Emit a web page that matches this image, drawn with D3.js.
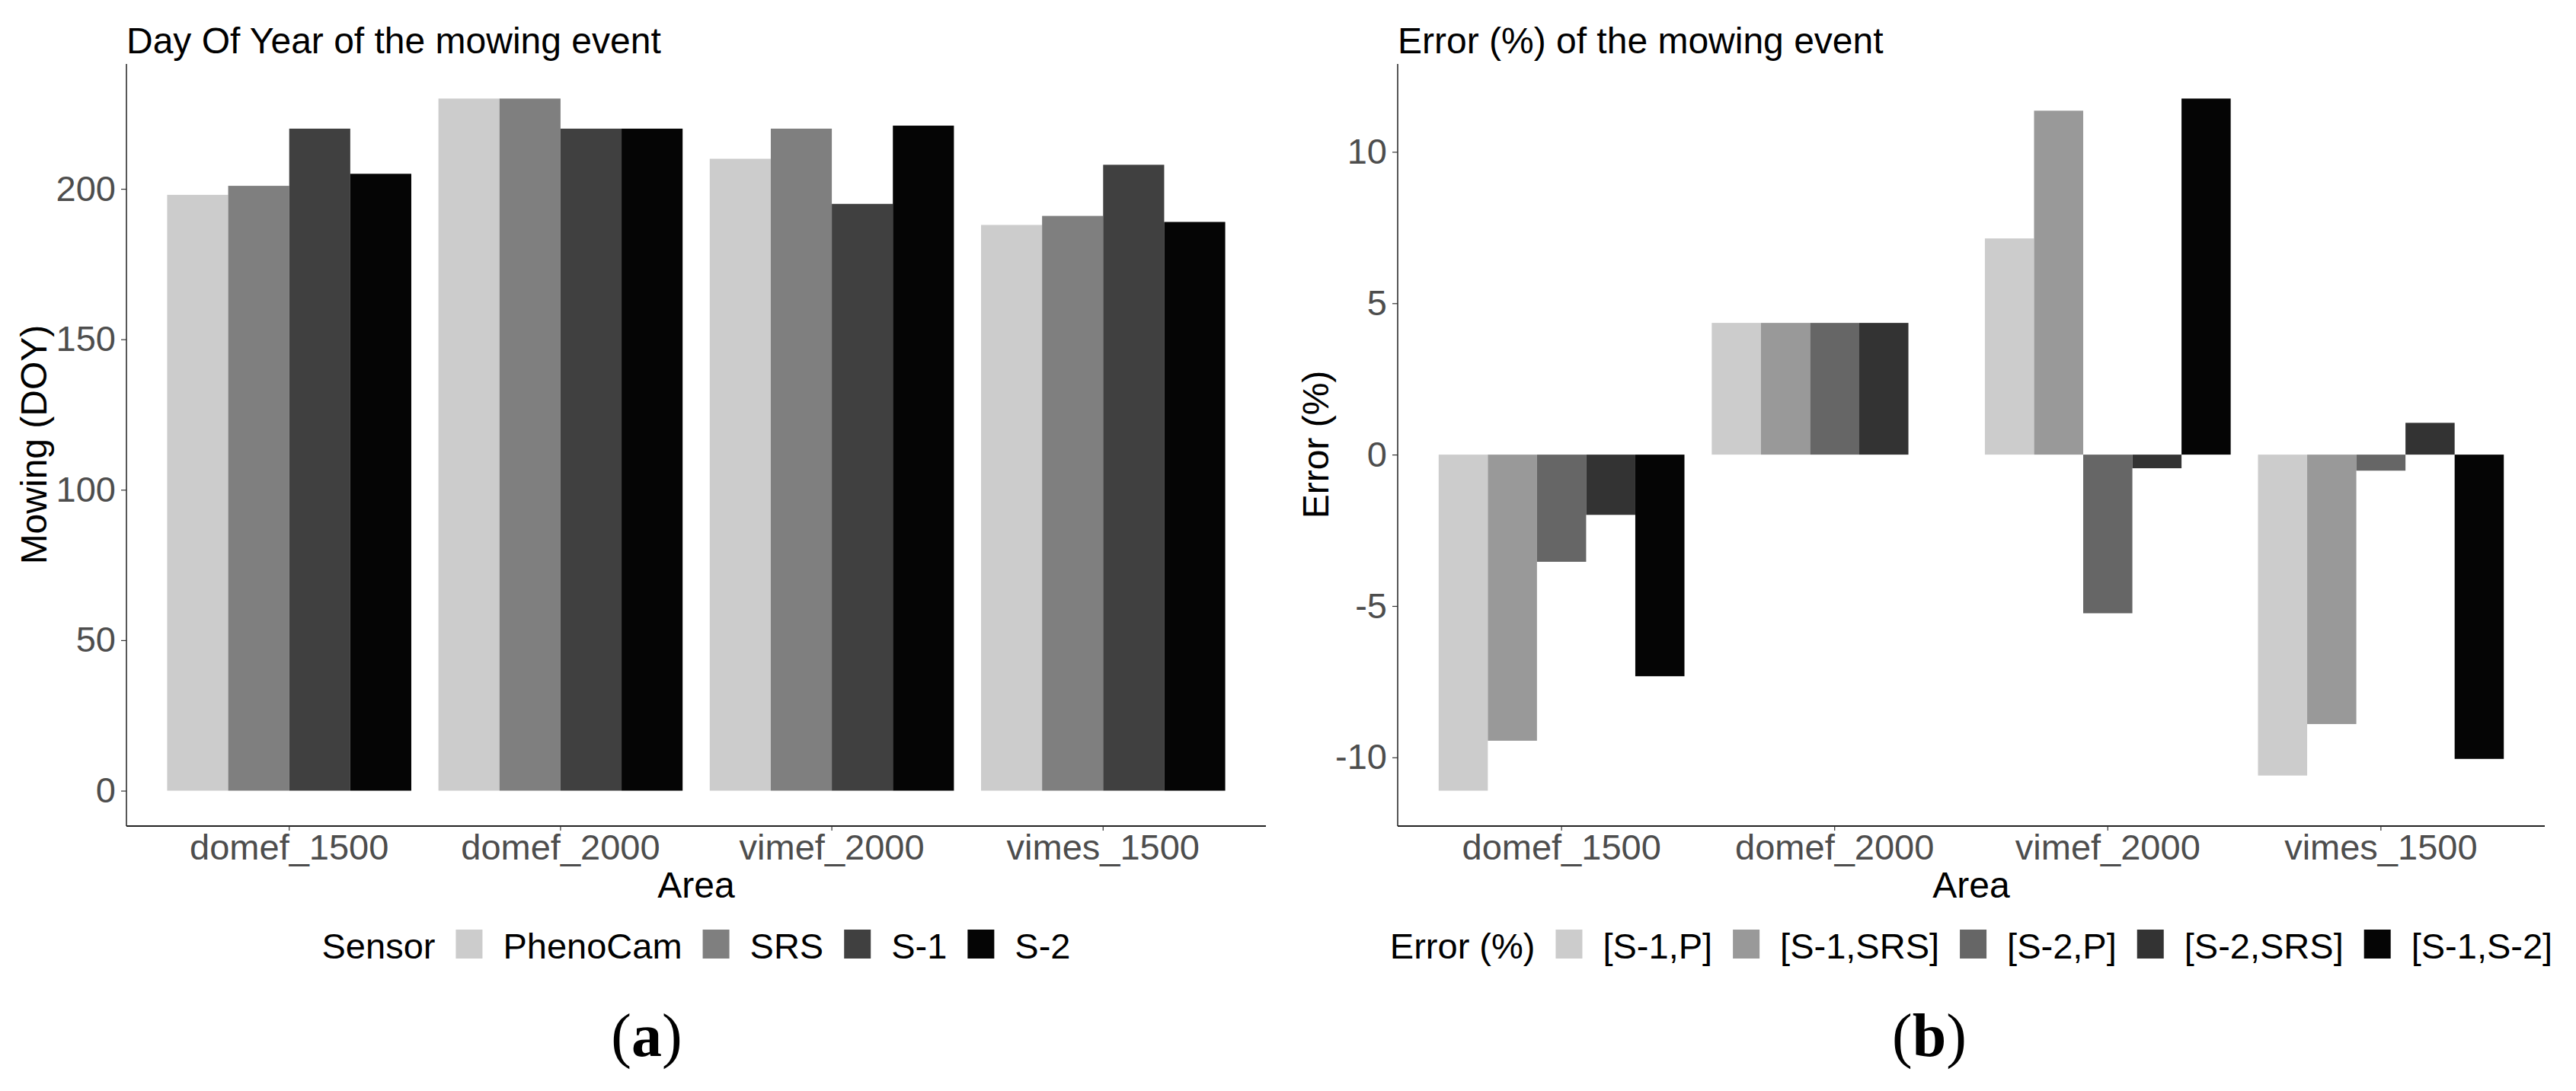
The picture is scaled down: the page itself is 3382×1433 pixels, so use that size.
<!DOCTYPE html>
<meta charset="utf-8">
<head>
  <title>Mowing event</title>
</head>
<style>
body { margin: 0; background: #fff; }
svg text { font-family: "Liberation Sans", Arial, sans-serif; }
</style>
<body>
<svg id="chart" width="3382" height="1433"></svg>
<script src="https://cdnjs.cloudflare.com/ajax/libs/d3/7.8.5/d3.min.js"></script>
<script>
// categories
var areas = ['domef_1500', 'domef_2000', 'vimef_2000', 'vimes_1500'];

// panel (a): DOY per sensor
var sensors = ['PhenoCam', 'SRS', 'S-1', 'S-2'];
var phenoCam = [198, 230, 210, 188];
var srs      = [201, 230, 220, 191];
var s1       = [220, 220, 195, 208];
var s2       = [205, 220, 221, 189];
var doyTicks = [0, 50, 100, 150, 200];

// panel (b): error (%) per pair
var pairs = ['[S-1,P]', '[S-1,SRS]', '[S-2,P]', '[S-2,SRS]', '[S-1,S-2]'];
var errS1P    = [-11.1, 4.35, 7.14, -10.6];
var errS1SRS  = [-9.45, 4.35, 11.36, -8.9];
var errS2P    = [-3.54, 4.35, -5.24, -0.53];
var errS2SRS  = [-1.99, 4.35, -0.45, 1.05];
var errS1S2   = [-7.32, 0, 11.76, -10.05];
var errTicks = [-10, -5, 0, 5, 10];

var svg = d3.select('#chart');
var FS = 48, TS = 47;
var sans = '"Liberation Sans", Arial, sans-serif';

function drawPanel(o) {
  var g = svg.append('g');
  var top = 84, bottom = 1084;

  // ggplot style 5% expansion
  var all = d3.merge(o.series);
  var lo = Math.min(0, d3.min(all)), hi = Math.max(0, d3.max(all));
  var pad = (hi - lo) * 0.05;
  var y = d3.scaleLinear().domain([lo - pad, hi + pad]).range([bottom, top]);

  var x = d3.scaleBand().domain(areas).range([o.left, o.right])
    .paddingInner(0.1).paddingOuter(0.15);
  var xs = d3.scaleBand().domain(o.keys).range([0, x.bandwidth()]);

  // bars
  o.series.forEach(function(vals, i) {
    g.append('g').selectAll('rect').data(vals).enter().append('rect')
      .attr('x', function(d, j) { return x(areas[j]) + xs(o.keys[i]); })
      .attr('width', xs.bandwidth())
      .attr('y', function(d) { return y(Math.max(0, d)); })
      .attr('height', function(d) { return Math.abs(y(d) - y(0)); })
      .attr('fill', o.colors[i]);
  });

  // y axis
  var ya = g.append('g').attr('transform', 'translate(' + o.left + ',0)')
    .call(d3.axisLeft(y).tickValues(o.ticks).tickSizeInner(7).tickSizeOuter(0)
      .tickPadding(7).tickFormat(function(d) { return String(d); }));
  ya.select('.domain').attr('stroke', '#111').attr('stroke-width', 1.4)
    .attr('d', 'M0,' + top + 'V' + (bottom + 1));
  ya.selectAll('.tick line').attr('stroke', '#333').attr('stroke-width', 1.2);
  ya.selectAll('.tick text').attr('font-size', TS).attr('fill', '#4d4d4d')
    .attr('font-family', sans);

  // x axis
  var xa = g.append('g').attr('transform', 'translate(0,' + (bottom + 1) + ')')
    .call(d3.axisBottom(x).tickSizeInner(6).tickSizeOuter(0).tickPadding(5));
  xa.select('.domain').attr('stroke', '#222').attr('stroke-width', 2)
    .attr('d', 'M' + o.left + ',0H' + o.right);
  xa.selectAll('.tick line').attr('stroke', '#333').attr('stroke-width', 1.2);
  xa.selectAll('.tick text').attr('font-size', TS).attr('fill', '#4d4d4d')
    .attr('font-family', sans);

  // titles
  g.append('text').attr('x', o.left).attr('y', 70).attr('font-size', FS)
    .attr('fill', '#000').text(o.title);
  g.append('text').attr('x', (o.left + o.right) / 2).attr('y', 1179)
    .attr('text-anchor', 'middle').attr('font-size', FS).text('Area');
  g.append('text')
    .attr('transform', 'translate(' + o.yTitleX + ',' + (top + bottom) / 2 + ') rotate(-90)')
    .attr('text-anchor', 'middle').attr('font-size', FS).text(o.yTitle);

  // legend
  var lg = g.append('g');
  var gap = 27, kw = 35, kh = 38, ky = 1221, ty = 1259;
  var cx = 0;
  var t = lg.append('text').attr('x', cx).attr('y', ty).attr('font-size', TS).text(o.legendTitle);
  cx += t.node().getComputedTextLength() + gap;
  o.keys.forEach(function(k, i) {
    lg.append('rect').attr('x', cx).attr('y', ky).attr('width', kw).attr('height', kh)
      .attr('fill', o.colors[i]);
    cx += kw + gap;
    var lt = lg.append('text').attr('x', cx).attr('y', ty).attr('font-size', TS).text(k);
    cx += lt.node().getComputedTextLength() + (i < o.keys.length - 1 ? gap : 0);
  });
  lg.attr('transform', 'translate(' + ((o.left + o.right) / 2 - cx / 2) + ',0)');

  // sub-figure caption
  var cap = g.append('text').attr('x', o.capX).attr('y', 1387).attr('text-anchor', 'middle')
    .attr('font-size', 80).style('font-family', '"Liberation Serif", "Times New Roman", serif');
  cap.append('tspan').text('(');
  cap.append('tspan').attr('font-weight', 'bold').text(o.cap);
  cap.append('tspan').text(')');
}

drawPanel({
  left: 166, right: 1662,
  series: [phenoCam, srs, s1, s2],
  keys: sensors,
  colors: ['#cccccc', '#7f7f7f', '#404040', '#050505'],
  ticks: doyTicks,
  title: 'Day Of Year of the mowing event',
  yTitle: 'Mowing (DOY)', yTitleX: 61,
  legendTitle: 'Sensor',
  cap: 'a', capX: 849
});

drawPanel({
  left: 1835, right: 3341,
  series: [errS1P, errS1SRS, errS2P, errS2SRS, errS1S2],
  keys: pairs,
  colors: ['#cccccc', '#999999', '#666666', '#333333', '#050505'],
  ticks: errTicks,
  title: 'Error (%) of the mowing event',
  yTitle: 'Error (%)', yTitleX: 1744,
  legendTitle: 'Error (%)',
  cap: 'b', capX: 2533
});
</script>
</body>
</html>
